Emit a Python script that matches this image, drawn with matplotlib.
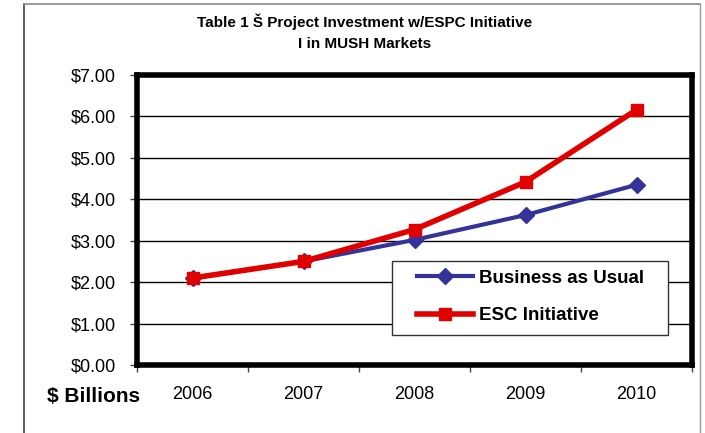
import matplotlib.pyplot as plt
from matplotlib.lines import Line2D
from matplotlib.patches import Rectangle

years = ["2006", "2007", "2008", "2009", "2010"]
business_as_usual = [2.10, 2.50, 3.02, 3.62, 4.35]
esc_initiative = [2.10, 2.50, 3.27, 4.42, 6.16]
yticks = [0, 1, 2, 3, 4, 5, 6, 7]

plt.rcParams['font.family'] = ['Liberation Sans', 'DejaVu Sans']

W, H = 705, 433


def fx(px):
    return px / W


def fy(py):
    return 1 - py / H


fig = plt.figure(figsize=(7.05, 4.33), dpi=100)
ax = fig.add_axes([fx(137), fy(365), 555 / W, 290 / H])

x = range(len(years))
ax.plot(x, business_as_usual, color='#333399', lw=3, marker='D', ms=8,
        label='Business as Usual', zorder=3)
ax.plot(x, esc_initiative, color='#E00000', lw=4, marker='s', ms=9,
        label='ESC Initiative', zorder=4)

ax.set_xlim(-0.5, 4.5)
ax.set_ylim(0, 7)
ax.set_yticks(yticks)
ax.set_yticklabels(["${:.2f}".format(v) for v in yticks], fontsize=13)
ax.set_xticks([i + 0.5 for i in range(-1, len(years))])
ax.set_xticklabels([])
ax.set_xticks(list(x), minor=True)
ax.set_xticklabels(years, minor=True, fontsize=13)
ax.tick_params(axis='x', which='minor', length=0, pad=15)
ax.tick_params(axis='x', which='major', length=5, width=1, color='#444444')
ax.tick_params(axis='y', length=5, width=1, color='#444444', pad=10)
ax.grid(axis='y', color='black', lw=1)
ax.set_axisbelow(True)
for s in ax.spines.values():
    s.set_linewidth(4)
    s.set_color('black')

# legend box drawn by hand, entries placed inside it
box = Rectangle((fx(392), fy(335)), fx(668) - fx(392), fy(261) - fy(335),
                transform=fig.transFigure, facecolor='white',
                edgecolor='#333333', lw=1, zorder=5, clip_on=False)
ax.add_patch(box)
leg = ax.legend(loc='center left', bbox_to_anchor=(fx(417), fy(297)),
                bbox_transform=fig.transFigure,
                prop={'weight': 'bold', 'size': 13.5}, frameon=False,
                borderpad=0, labelspacing=1.1, handlelength=3.0,
                handletextpad=0.3, borderaxespad=0)
leg.set_zorder(6)

fig.text(fx(365), fy(22), "Table 1 Š Project Investment w/ESPC Initiative",
         ha='center', va='center', fontsize=11, fontweight='bold')
fig.text(fx(365), fy(44), "I in MUSH Markets",
         ha='center', va='center', fontsize=11, fontweight='bold')
fig.text(fx(94), fy(397), "$ Billions", ha='center', va='center',
         fontsize=15, fontweight='bold')

# outer frame
fig.add_artist(Line2D([fx(23.5), fx(23.5)], [0, fy(4)], color='#444444', lw=1.2))
fig.add_artist(Line2D([fx(23.5), fx(700)], [fy(4), fy(4)], color='#888888', lw=1.2))
fig.add_artist(Line2D([fx(700), fx(700)], [0, fy(4)], color='#999999', lw=1))

fig.savefig("out.png", dpi=100)
